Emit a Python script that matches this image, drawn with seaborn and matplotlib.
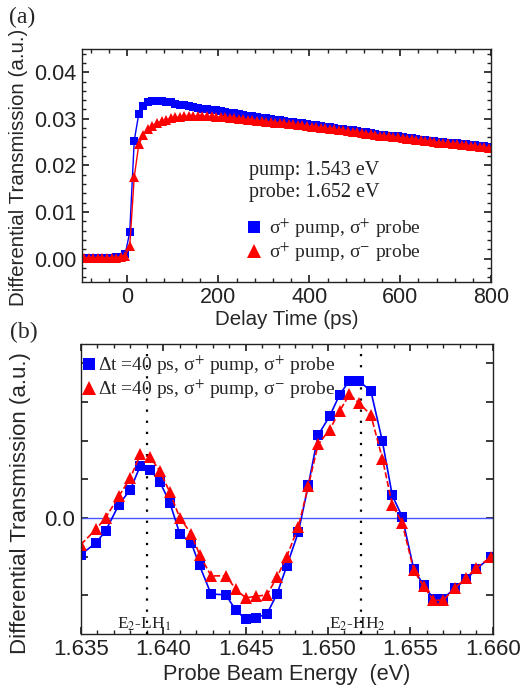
import numpy as np
import pandas as pd
import matplotlib
matplotlib.use('Agg')
import matplotlib.pyplot as plt
from matplotlib.lines import Line2D
from matplotlib.ticker import MultipleLocator
import seaborn as sns

sns.set_theme(style='ticks')
plt.rcParams['font.family'] = ['Liberation Sans', 'DejaVu Sans']
plt.rcParams['mathtext.fontset'] = 'stix'
plt.rcParams.update({
    'axes.linewidth': 1.0, 'axes.edgecolor': '#222222',
    'xtick.direction': 'in', 'ytick.direction': 'in',
    'xtick.top': True, 'ytick.right': True,
    'xtick.major.size': 5, 'ytick.major.size': 5,
    'xtick.minor.size': 3, 'ytick.minor.size': 3,
    'xtick.color': '#222222', 'ytick.color': '#222222',
})

SERIF = ['Liberation Serif', 'DejaVu Serif']

# ---- (a) time-resolved differential transmission ----
delay_ps = [-95, -85, -75, -65, -55, -45, -35, -25, -15, -5,
            5, 15, 25, 35, 45, 55, 65, 75, 85, 95,
            105, 115, 125, 135, 145, 155, 165, 175, 185, 195,
            205, 215, 225, 235, 245, 255, 265, 275, 285, 295,
            305, 315, 325, 335, 345, 355, 365, 375, 385, 395,
            405, 415, 425, 435, 445, 455, 465, 475, 485, 495,
            505, 515, 525, 535, 545, 555, 565, 575, 585, 595,
            605, 615, 625, 635, 645, 655, 665, 675, 685, 695,
            705, 715, 725, 735, 745, 755, 765, 775, 785, 795]
dt_same = [0.0002, 0.0002, 0.0001, 0.0002, 0.0002, 0.0001, 0.0002, 0.0003, 0.0004, 0.0009,
           0.0056, 0.0253, 0.0311, 0.0328, 0.0335, 0.0338, 0.0339, 0.0339, 0.0337, 0.0335,
           0.0332, 0.0330, 0.0329, 0.0327, 0.0325, 0.0324, 0.0322, 0.0321, 0.0319, 0.0318,
           0.0316, 0.0315, 0.0313, 0.0312, 0.0310, 0.0309, 0.0307, 0.0306, 0.0304, 0.0302,
           0.0301, 0.0300, 0.0298, 0.0297, 0.0296, 0.0294, 0.0293, 0.0291, 0.0290, 0.0288,
           0.0287, 0.0286, 0.0284, 0.0283, 0.0282, 0.0280, 0.0279, 0.0278, 0.0276, 0.0275,
           0.0274, 0.0272, 0.0271, 0.0269, 0.0268, 0.0266, 0.0265, 0.0264, 0.0263, 0.0262,
           0.0260, 0.0259, 0.0258, 0.0257, 0.0255, 0.0254, 0.0253, 0.0252, 0.0251, 0.0250,
           0.0249, 0.0248, 0.0247, 0.0246, 0.0245, 0.0244, 0.0243, 0.0242, 0.0241, 0.0240]
dt_opp = [0.0001, 0.0001, 0.0002, 0.0001, 0.0001, 0.0002, 0.0001, 0.0002, 0.0003, 0.0006,
          0.0026, 0.0175, 0.0245, 0.0265, 0.0277, 0.0285, 0.0291, 0.0295, 0.0298, 0.0301,
          0.0303, 0.0304, 0.0305, 0.0306, 0.0306, 0.0306, 0.0306, 0.0305, 0.0305, 0.0304,
          0.0304, 0.0303, 0.0302, 0.0301, 0.0300, 0.0299, 0.0298, 0.0297, 0.0296, 0.0295,
          0.0294, 0.0293, 0.0292, 0.0291, 0.0290, 0.0289, 0.0288, 0.0287, 0.0286, 0.0284,
          0.0283, 0.0282, 0.0281, 0.0280, 0.0278, 0.0277, 0.0276, 0.0275, 0.0273, 0.0272,
          0.0271, 0.0270, 0.0268, 0.0267, 0.0266, 0.0264, 0.0263, 0.0262, 0.0261, 0.0260,
          0.0258, 0.0257, 0.0256, 0.0255, 0.0254, 0.0253, 0.0252, 0.0250, 0.0249, 0.0248,
          0.0247, 0.0246, 0.0245, 0.0244, 0.0243, 0.0242, 0.0241, 0.0240, 0.0239, 0.0238]

# ---- (b) spectrum at 40 ps ----
energy_ev = [1.6350, 1.6359, 1.6365, 1.6373, 1.6380, 1.6386, 1.6392, 1.6398, 1.6404, 1.6410,
             1.6417, 1.6422, 1.6429, 1.6438, 1.6444, 1.6450, 1.6456, 1.6463, 1.6469, 1.6475,
             1.6482, 1.6488, 1.6494, 1.6501, 1.6507, 1.6513, 1.6519, 1.6526, 1.6533, 1.6539,
             1.6545, 1.6552, 1.6558, 1.6564, 1.6570, 1.6577, 1.6584, 1.6590, 1.6599]
spec_same = [-0.95, -0.65, -0.34, 0.34, 0.73, 1.34, 1.25, 0.92, 0.39, -0.41,
             -0.65, -1.23, -1.97, -1.99, -2.39, -2.62, -2.59, -2.48, -1.97, -1.24,
             -0.37, 0.84, 2.14, 2.63, 3.18, 3.55, 3.53, 3.28, 1.98, 0.58,
             0.03, -1.32, -1.74, -2.09, -2.09, -1.81, -1.59, -1.32, -1.01]
spec_opp = [-0.69, -0.30, 0.00, 0.56, 1.03, 1.64, 1.57, 1.21, 0.66, 0.00,
            -0.41, -0.95, -1.50, -1.50, -1.84, -2.07, -2.03, -1.99, -1.53, -1.00,
            -0.23, 0.82, 1.90, 2.28, 2.76, 3.19, 2.96, 2.66, 1.53, 0.34,
            -0.13, -1.35, -1.77, -2.13, -2.13, -1.81, -1.55, -1.29, -1.01]
transitions = [1.6390, 1.6520]
transition_names = ['E$_2$-LH$_1$', 'E$_2$-HH$_2$']

BLUE = '#0000ff'
RED = '#ff0000'

fig = plt.figure(figsize=(5.22, 6.89), dpi=100)
ax1 = fig.add_axes([0.157, 0.591, 0.784, 0.338])
ax2 = fig.add_axes([0.155, 0.080, 0.789, 0.421])

# panel (a)
df_a = pd.DataFrame({'t': delay_ps, 'same': dt_same, 'opp': dt_opp})
sns.lineplot(data=df_a, x='t', y='same', ax=ax1, color=BLUE, lw=1.0,
             marker='s', markersize=6, markeredgewidth=0, markerfacecolor=BLUE)
sns.lineplot(data=df_a, x='t', y='opp', ax=ax1, color=RED, lw=1.0,
             marker='^', markersize=7, markeredgewidth=0, markerfacecolor=RED)
ax1.set_xlim(-100, 800)
ax1.set_ylim(-0.005, 0.045)
ax1.set_xticks([0, 200, 400, 600, 800])
ax1.set_yticks([0.00, 0.01, 0.02, 0.03, 0.04])
ax1.xaxis.set_minor_locator(MultipleLocator(40))
ax1.yaxis.set_minor_locator(MultipleLocator(0.002))
ax1.tick_params(which='both', top=True, right=True, labelsize=15.5, pad=4)
ax1.set_xlabel('Delay Time (ps)', fontsize=14.8, labelpad=1)
ax1.set_ylabel('Differential Transmission (a.u.)', fontsize=14.8)
ax1.yaxis.set_label_coords(-0.132, 0.49)

ax1.text(268, 0.0189, 'pump: 1.543 eV', family=SERIF, fontsize=14.5,
         va='center', ha='left', color='#222222')
ax1.text(268, 0.0141, 'probe: 1.652 eV', family=SERIF, fontsize=14.5,
         va='center', ha='left', color='#222222')
handles_a = [Line2D([], [], ls='none', marker='s', ms=9, color=BLUE, mew=0),
             Line2D([], [], ls='none', marker='^', ms=10, color=RED, mew=0)]
ax1.legend(handles_a, ['σ$^{+}$ pump, σ$^{+}$ probe', 'σ$^{+}$ pump, σ$^{-}$ probe'],
           loc='upper left', bbox_to_anchor=(0.405, 0.28), frameon=False,
           prop={'family': SERIF, 'size': 14}, handlelength=0.6,
           handletextpad=0.5, borderpad=0, borderaxespad=0, labelspacing=0.0)

# panel (b)
df_b = pd.DataFrame({'E': energy_ev, 'same': spec_same, 'opp': spec_opp})
ax2.axhline(0, color='#4455ff', lw=1.0, zorder=1)
for xe in transitions:
    ax2.axvline(xe, color='black', lw=1.6, ls=(0, (1, 4)), zorder=1)
sns.lineplot(data=df_b, x='E', y='same', ax=ax2, color=BLUE, lw=1.2,
             marker='s', markersize=7.5, markeredgewidth=0, markerfacecolor=BLUE)
sns.lineplot(data=df_b, x='E', y='opp', ax=ax2, color=RED, lw=1.2, linestyle='--',
             marker='^', markersize=9, markeredgewidth=0, markerfacecolor=RED)
ax2.set_xlim(1.635, 1.660)
ax2.set_ylim(-3.0, 4.5)
ax2.set_xticks([1.635, 1.640, 1.645, 1.650, 1.655, 1.660])
ax2.set_xticklabels(['1.635', '1.640', '1.645', '1.650', '1.655', '1.660'])
ax2.xaxis.set_minor_locator(MultipleLocator(0.001))
ax2.set_yticks([-2, -1, 0, 1, 2, 3, 4])
ax2.set_yticklabels(['', '', '0.0', '', '', '', ''])
ax2.tick_params(which='both', top=True, right=True, labelsize=16, pad=4)
ax2.set_xlabel('Probe Beam Energy  (eV)', fontsize=15.6)
ax2.xaxis.set_label_coords(0.5, -0.105)
ax2.set_ylabel('Differential Transmission (a.u.)', fontsize=16)
ax2.yaxis.set_label_coords(-0.121, 0.45)

for xe, name in zip(transitions, transition_names):
    ax2.text(xe - 0.0002, -2.75, name, family=SERIF, fontsize=12.5,
             ha='center', va='center', color='#222222')

handles_b = [Line2D([], [], ls='none', marker='s', ms=9, color=BLUE, mew=0),
             Line2D([], [], ls='none', marker='^', ms=10, color=RED, mew=0)]
ax2.legend(handles_b, ['Δt =40 ps, σ$^{+}$ pump, σ$^{+}$ probe',
                       'Δt =40 ps, σ$^{+}$ pump, σ$^{-}$ probe'],
           loc='upper left', bbox_to_anchor=(0.005, 0.968), frameon=False,
           prop={'family': SERIF, 'size': 14}, handlelength=0.6,
           handletextpad=0.15, borderpad=0, borderaxespad=0, labelspacing=0.05)

fig.text(0.042, 0.974, '(a)', family=SERIF, fontsize=17, ha='center', va='center')
fig.text(0.046, 0.518, '(b)', family=SERIF, fontsize=17, ha='center', va='center')

fig.savefig('out.png', dpi=100)
plt.close()
